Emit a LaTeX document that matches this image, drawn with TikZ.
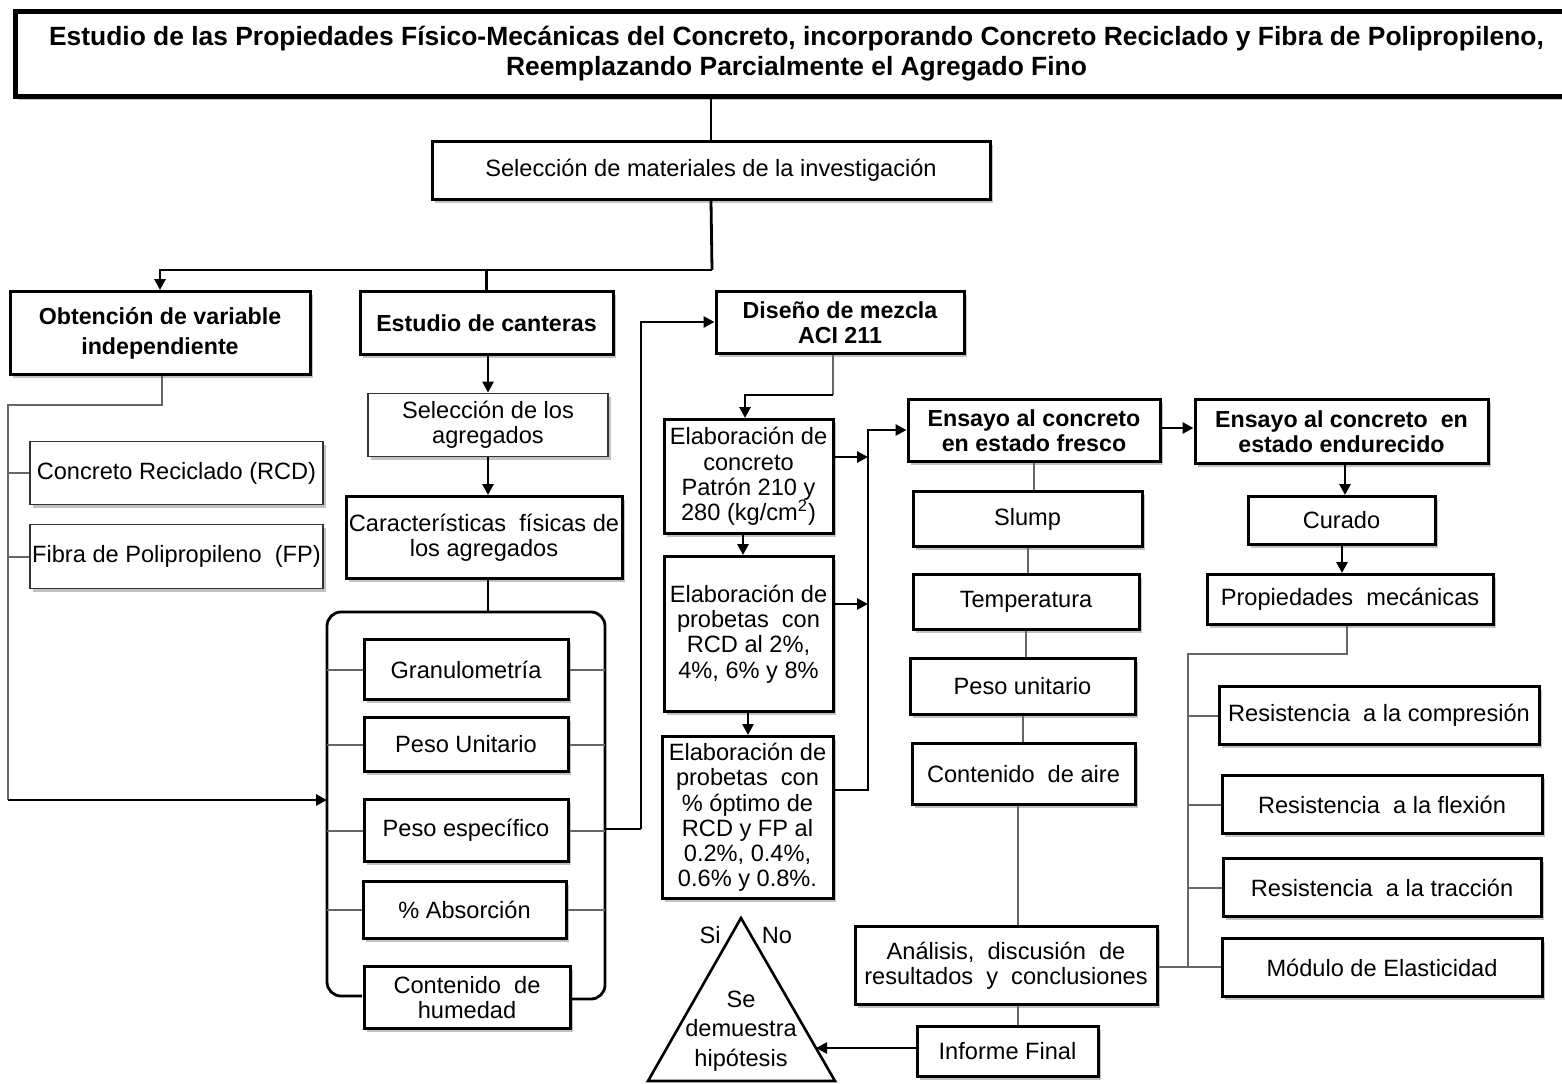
\documentclass[tikz,border=0pt]{standalone}
\usepackage{fontspec}
\setmainfont{Liberation Sans}
\usetikzlibrary{shadows,arrows.meta}
\newcommand\regf{\fontsize{11.8}{12.6}\selectfont}
\newcommand\bldf{\fontsize{11.6}{12.6}\selectfont\bfseries}
\newcommand\titf{\fontsize{13.2}{15}\selectfont\bfseries}
\tikzset{
  corners/.style n args={4}{minimum width={(#3-#1)*0.5pt}, minimum height={(#4-#2)*0.5pt},
    at={({(#1+#3)/2},{(#2+#4)/2+1.5})}},
  box/.style={draw=black, line width=1.5pt, fill=white, inner sep=0pt, align=center, font=\regf,
    drop shadow={shadow xshift=1.6pt, shadow yshift=-1.6pt, opacity=0.4, fill=black!60}},
  thinbox/.style={box, line width=0.9pt, draw=black!80},
  boldbox/.style={box, font=\bldf},
  titlebox/.style={box, line width=2.5pt, font=\titf},
  gline/.style={draw=black!60, line width=1pt},
  bline/.style={draw=black, line width=1.4pt},
  barrow/.style={bline, -{Triangle[length=5.5pt,width=5.5pt]}},
  brack/.style={draw=black, line width=1.4pt, rounded corners=7pt},
  tri/.style={draw=black, line width=1.3pt, line join=miter},
  lab/.style={font=\regf, inner sep=0pt, align=center}
}
\begin{document}
\begin{tikzpicture}[x=0.5pt,y=-0.5pt]
\useasboundingbox (0,0) rectangle (1562,1083);
% nodes
\node[titlebox, minimum width=781.5pt, minimum height=42.5pt, at={(796.5,54)}] (title) {Estudio de las Propiedades Físico-Mecánicas del Concreto, incorporando Concreto Reciclado y Fibra de Polipropileno,\\ Reemplazando Parcialmente el Agregado Fino};
\node[box, corners={432}{140}{990}{198}] (sel) {Selección de materiales de la investigación};
\node[boldbox, corners={10}{290}{310}{373}] (obt) {Obtención de variable\\[2.5pt] independiente};
\node[thinbox, corners={30}{440}{323}{503}] (rcd) {Concreto Reciclado (RCD)};
\node[thinbox, corners={30}{523}{323}{587}] (fib) {Fibra de Polipropileno\ \ (FP)};
\node[boldbox, corners={360}{290}{613}{353}] (can) {Estudio de canteras};
\node[thinbox, corners={368}{392}{608}{455}] (sag) {Selección de los\\ agregados};
\node[box, corners={346}{495}{622}{577}] (car) {Características\ \ físicas de\\ los agregados};
\node[box, corners={364}{638}{568}{698}] (gra) {Granulometría};
\node[box, corners={364}{716}{568}{770}] (peu) {Peso Unitario};
\node[box, corners={364}{798}{568}{860}] (pee) {Peso específico};
\node[box, corners={363}{880}{566}{937}] (abs) {\% Absorción};
\node[box, corners={364}{965}{570}{1027}] (hum) {Contenido\ \ de\\ humedad};
\node[boldbox, corners={716}{290}{964}{352}] (dis) {Diseño de mezcla\\ ACI 211};
\node[box, corners={664}{418}{833}{532}] (e1) {Elaboración de\\ concreto\\ Patrón 210 y\\ 280 (kg/cm\textsuperscript{2})};
\node[box, corners={664}{555}{833}{710}] (e2) {Elaboración\ de\\ probetas\ \ con\\ RCD al 2\%,\\ 4\%, 6\% y 8\%};
\node[box, corners={662}{735}{833}{897}] (e3) {Elaboración\ de\\ probetas\ \ con\\ \% óptimo de\\ RCD y FP al\\ 0.2\%, 0.4\%,\\ 0.6\% y 0.8\%.};
\node[boldbox, corners={908}{398}{1160}{460}] (fre) {Ensayo\ al concreto\\ en estado fresco};
\node[box, corners={913}{490}{1142}{545}] (slu) {Slump};
\node[box, corners={913}{573}{1139}{628}] (tem) {Temperatura};
\node[box, corners={910}{657}{1135}{713}] (pun) {Peso unitario};
\node[box, corners={912}{742}{1135}{803}] (air) {Contenido\ \ de aire};
\node[box, corners={855}{925}{1157}{1003}] (ana) {Análisis,\ \ discusión\ \ de\\ resultados\ \ y\ \ conclusiones};
\node[box, corners={917}{1025}{1098}{1075}] (inf) {Informe Final};
\node[boldbox, corners={1195}{398}{1488}{462}] (end) {Ensayo\ al concreto\ \ en\\ estado\ endurecido};
\node[box, corners={1248}{495}{1435}{543}] (cur) {Curado};
\node[box, corners={1207}{573}{1493}{623}] (pro) {Propiedades\ \ mecánicas};
\node[box, corners={1219}{685}{1539}{743}] (rco) {Resistencia\ \ a la compresión};
\node[box, corners={1222}{774}{1542}{832}] (rfl) {Resistencia\ \ a la flexión};
\node[box, corners={1223}{857}{1541}{915}] (rtr) {Resistencia\ \ a la tracción};
\node[box, corners={1222}{937}{1542}{995}] (mod) {Módulo de Elasticidad};
% triangle
\coordinate (tA) at (741,918);
\coordinate (tL) at (648,1081);
\coordinate (tR) at (835,1081);
\draw[tri] (tA) -- (tR) -- (tL) -- cycle;
\node[lab] (hip) at (741,1031) {Se\\[2pt] demuestra\\[2pt] hipótesis};
\node[lab] (si) at (710,935) {Si};
\node[lab] (no) at (777,935) {No};
\coordinate (tarr) at (816,1048);
% main connectors
\draw[bline] (sel.north) -- (sel.north |- title.south);
\coordinate (j1) at (712,270);
\draw[bline] (sel.south) -- (j1);
\draw[barrow] (j1) -- (obt.north |- j1) -- (obt.north);
\draw[bline] (can.north |- j1) -- (can.north);
% obtencion branch
\coordinate (o1) at (162,405);
\coordinate (o2) at (8,405);
\coordinate (o3) at (8,800);
\draw[gline] (obt.south -| o1) -- (o1) -- (o2) -- (o3);
\draw[gline] (o2 |- rcd.west) -- (rcd.west);
\draw[gline] (o2 |- fib.west) -- (fib.west);
\coordinate (bl) at (327,800);
\draw[barrow] (o3) -- (bl);
% canteras column
\draw[barrow] (can.south -| sag.north) -- (sag.north);
\draw[barrow] (sag.south) -- (sag.south |- car.north);
\coordinate (bt) at (488,612);
\draw[bline] (car.south -| bt) -- (bt);
% bracket
\draw[brack] (362,996) -- (327,996) -- (327,612) -- (605,612) -- (605,999) -- (570,999);
\foreach \n in {gra,peu,pee,abs}{
  \draw[gline] (327,0 |- \n.west) -- (\n.west);
  \draw[gline] (\n.east) -- (605,0 |- \n.east);
}
% to diseño
\coordinate (p1) at (641,829);
\coordinate (p2) at (641,322);
\draw[bline] (605,829) -- (p1);
\draw[barrow] (p1) -- (p2) -- (dis.west |- p2);
% diseño to elaboracion
\coordinate (d1) at (833,395);
\coordinate (d2) at (745,395);
\draw[gline] (dis.south -| d1) -- (d1);
\draw[barrow] (d1) -- (d2) -- (d2 |- e1.north);
\draw[barrow] (e1.south -| 743,0) -- (743,0 |- e2.north);
\draw[barrow] (e2.south -| 748,0) -- (748,0 |- e3.north);
% elaboracion to fresco
\coordinate (v1) at (868,790);
\coordinate (v2) at (868,430);
\draw[barrow] (e1.east |- 0,457) -- (868,457);
\draw[barrow] (e2.east |- 0,604) -- (868,604);
\draw[barrow] (e3.east |- v1) -- (v1) -- (v2) -- (fre.west |- v2);
\draw[barrow] (fre.east |- 0,428) -- (end.west |- 0,428);
% fresco column
\draw[gline] (fre.south) -- (fre.south |- slu.north);
\draw[gline] (slu.south) -- (slu.south |- tem.north);
\draw[gline] (tem.south) -- (tem.south |- pun.north);
\draw[gline] (pun.south) -- (pun.south |- air.north);
\draw[gline] (air.south -| 1018,0) -- (1018,0 |- ana.north);
\draw[gline] (ana.south -| 1018,0) -- (1018,0 |- inf.north);
\draw[barrow] (inf.west |- tarr) -- (tarr);
% endurecido column
\draw[barrow] (end.south -| 1345,0) -- (1345,0 |- cur.north);
\draw[barrow] (cur.south -| 1342,0) -- (1342,0 |- pro.north);
\coordinate (m1) at (1347,654);
\coordinate (m2) at (1188,654);
\coordinate (m3) at (1188,967);
\draw[gline] (pro.south -| m1) -- (m1) -- (m2) -- (m3);
\foreach \n in {rco,rfl,rtr}{
  \draw[gline] (m2 |- \n.west) -- (\n.west);
}
\draw[gline] (ana.east |- m3) -- (mod.west |- m3);
\end{tikzpicture}
\end{document}
